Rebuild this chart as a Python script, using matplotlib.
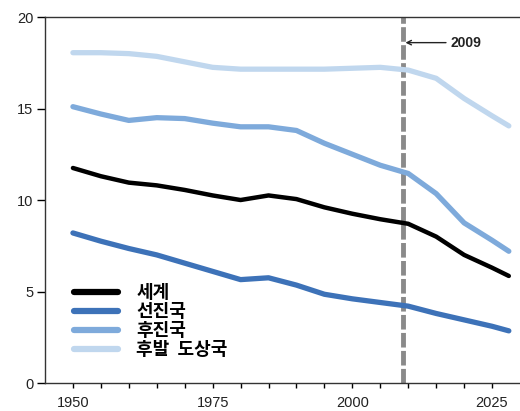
import numpy as np
import matplotlib.pyplot as plt

plt.rcParams['font.family'] = ['Liberation Sans', 'Noto Sans CJK KR', 'DejaVu Sans']

years = [1950, 1955, 1960, 1965, 1970, 1975, 1980, 1985, 1990, 1995,
         2000, 2005, 2010, 2015, 2020, 2025, 2028]
world = [11.75, 11.3, 10.95, 10.8, 10.55, 10.25, 10.0, 10.25, 10.05, 9.6,
         9.25, 8.95, 8.7, 8.0, 7.0, 6.3, 5.85]
developed = [8.2, 7.75, 7.35, 7.0, 6.55, 6.1, 5.65, 5.75, 5.35, 4.85,
             4.6, 4.4, 4.2, 3.8, 3.45, 3.1, 2.85]
less_dev = [15.1, 14.7, 14.35, 14.5, 14.45, 14.2, 14.0, 14.0, 13.8, 13.1,
            12.5, 11.9, 11.45, 10.35, 8.75, 7.8, 7.2]
least_dev = [18.05, 18.05, 18.0, 17.85, 17.55, 17.25, 17.15, 17.15, 17.15, 17.15,
             17.2, 17.25, 17.1, 16.65, 15.55, 14.6, 14.05]
labels = ['세계', '선진국', '후진국', '후발  도상국']
colors = ['#000000', '#3d72b8', '#7eaadb', '#c0d7ee']
marker_year = 2009

fig = plt.figure(figsize=(5.2, 4.11), dpi=100)
ax = fig.add_axes([0.0865, 0.0681, 0.9135, 0.8905])

series = [world, developed, less_dev, least_dev]
widths = [3.2, 3.8, 3.8, 3.8]
for vals, c, lab, lw in zip(series, colors, labels, widths):
    ax.plot(years, vals, color=c, lw=lw, label=lab, solid_capstyle='round',
            solid_joinstyle='round')

ax.axvline(marker_year, color='#8a8a8a', lw=3.5, ls=(0, (3.0, 0.7)), zorder=1)
ax.annotate(str(marker_year), xy=(marker_year + 0.5, 18.6), xytext=(2017.5, 18.6),
            fontsize=10, fontweight='bold', va='center', ha='left', color='#222222',
            arrowprops=dict(arrowstyle='->', color='#222222', lw=1.0,
                            mutation_scale=8, shrinkA=1, shrinkB=0))

ax.set_xlim(1945, 2030)
ax.set_ylim(0, 20)
ax.set_xticks(np.arange(1950, 2030, 5), minor=True)
ax.set_xticks([1950, 1975, 2000, 2025])
ax.set_yticks([0, 5, 10, 15, 20])
ax.tick_params(axis='x', which='both', length=3.6, width=1, direction='out', pad=6)
ax.tick_params(axis='y', length=5.5, width=1, direction='out', pad=3)
for lab in ax.get_xticklabels() + ax.get_yticklabels():
    lab.set_fontsize(10.5)
    lab.set_color('#222222')

ax.spines['right'].set_visible(False)
for s in ['left', 'bottom', 'top']:
    ax.spines[s].set_linewidth(1.0)
    ax.spines[s].set_color('#333333')

leg = ax.legend(loc='lower left', bbox_to_anchor=(0.046, 0.045), frameon=False,
                prop={'family': ['Noto Sans CJK KR', 'DejaVu Sans'],
                      'weight': 'bold', 'size': 13},
                handlelength=2.45, handletextpad=1.0,
                labelspacing=0.0, borderaxespad=0)
for h in leg.get_lines():
    h.set_linewidth(4.5)

fig.savefig('out.png', dpi=100)
